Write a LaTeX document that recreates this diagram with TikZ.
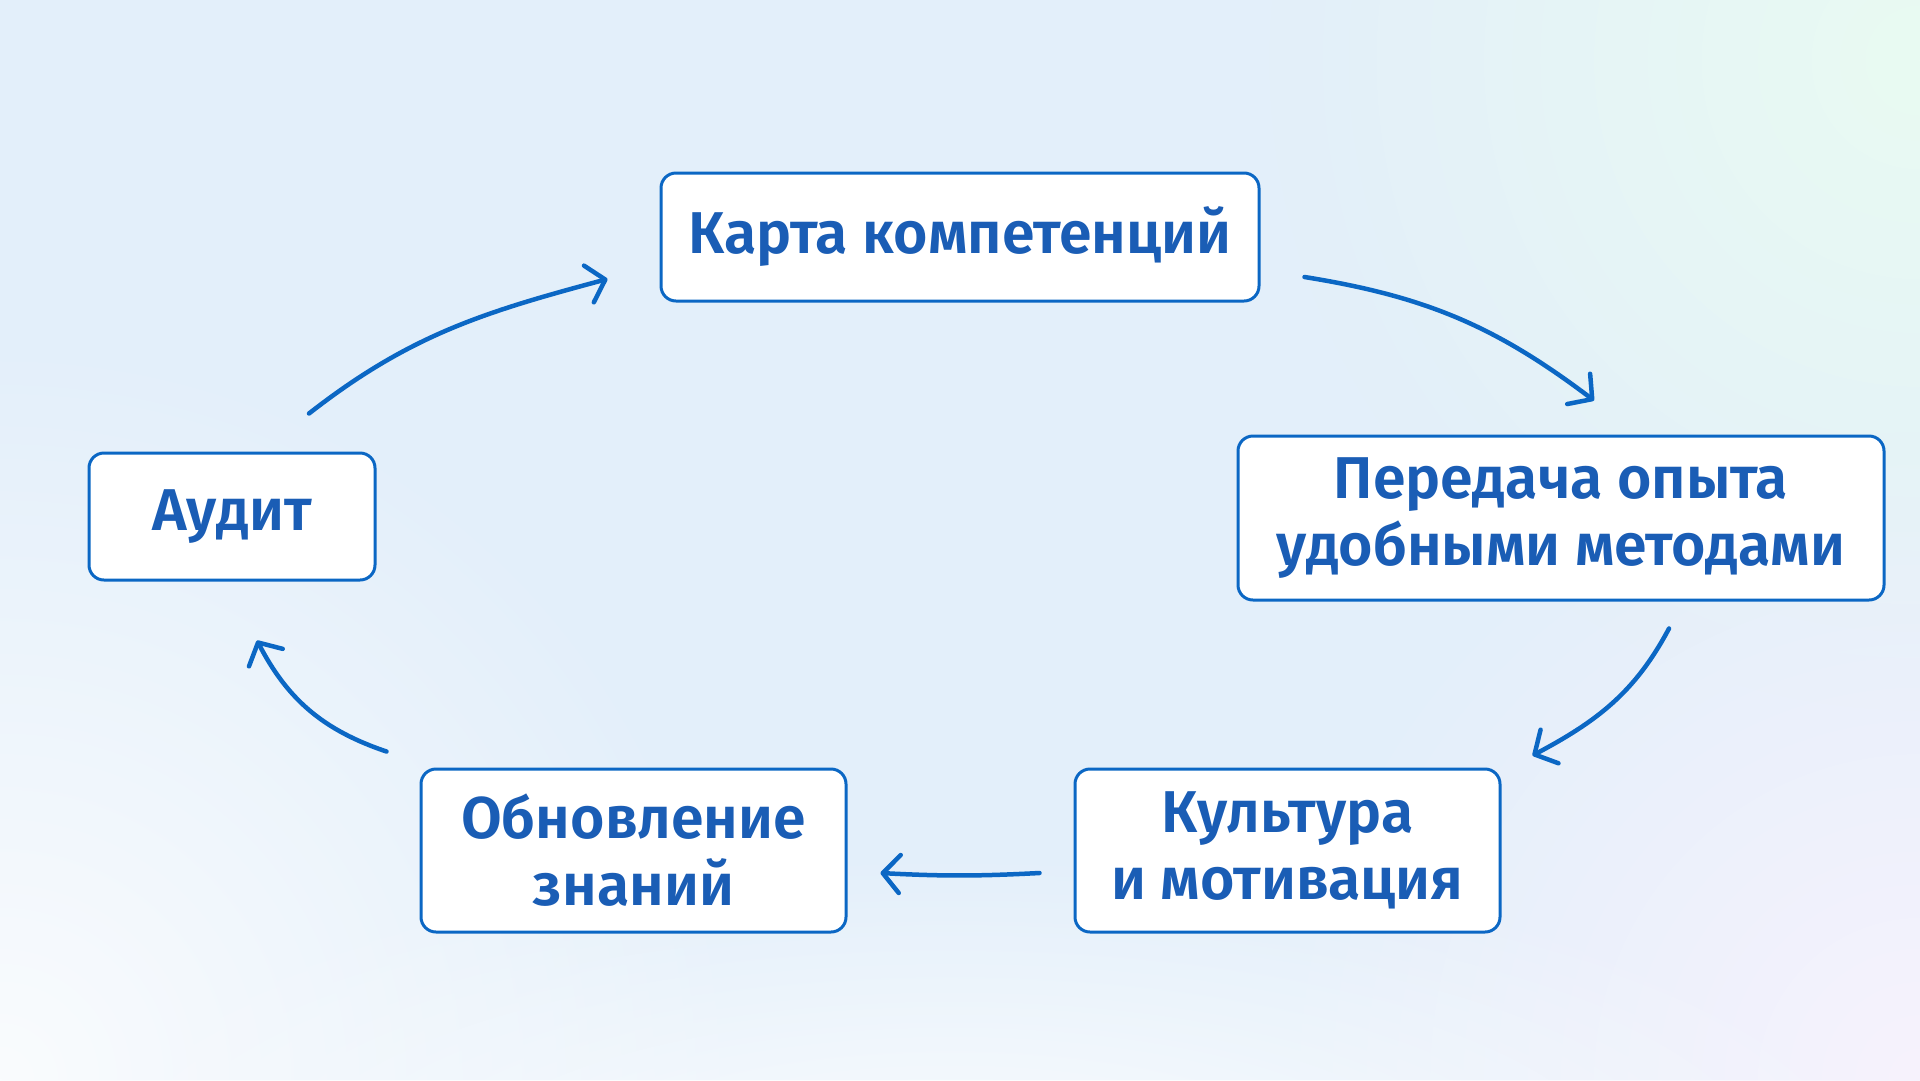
\documentclass[tikz,border=0pt]{standalone}
\usepackage{fontspec}
\setmainfont{Fira Sans}[BoldFont={Fira Sans SemiBold}]
\usetikzlibrary{arrows.meta,fadings}

\definecolor{bgblue}{HTML}{E3EFFA}
\definecolor{bgwhite}{HTML}{FAFCFE}
\definecolor{bgmint}{HTML}{E9FBF2}
\definecolor{bglilac}{HTML}{F7F3FD}
\definecolor{boxline}{HTML}{0B67C4}
\definecolor{boxtext}{HTML}{1A5DB5}

\tikzfading[name=glow, inner color=transparent!0, outer color=transparent!100]

\tikzset{
  stage/.style={draw=boxline, line width=3pt, fill=white, rounded corners=15pt,
    text=boxtext, font=\fontsize{59}{67}\selectfont\bfseries, align=center,
    inner sep=0pt},
  flow/.style={draw=boxline, line width=4.5pt, line cap=round,
    -{Straight Barb[length=17pt, width=38pt, line width=4.5pt, round]}}
}

\begin{document}
\begin{tikzpicture}[x=1pt, y=-1pt]
  % background
  \clip (0,0) rectangle (1920,1080);
  \fill[bgblue] (0,0) rectangle (1920,1080);
  \fill[bgwhite, path fading=glow] (0,1080) circle (750);
  \fill[bgmint, path fading=glow] (1920,60) circle (650);
  \fill[bglilac, path fading=glow] (1920,1080) circle (650);
  \fill[bgwhite, path fading=glow] (950,1180) ellipse (1000 and 330);

  \node[stage, minimum width=598pt, minimum height=128pt] (karta) at (960,237) {Карта компетенций};
  \node[stage, minimum width=646pt, minimum height=164pt] (peredacha) at (1561,518) {Передача опыта\\удобными методами};
  \node[stage, minimum width=425pt, minimum height=163pt] (kultura) at (1287.5,850.5) {Культура\\и мотивация};
  \node[stage, minimum width=425pt, minimum height=163pt] (obnovlenie) at (633.5,850.5) {Обновление\\знаний};
  \node[stage, minimum width=286pt, minimum height=127pt] (audit) at (232,516.5) {Аудит};

  \draw[flow] ([shift={(77,-38)}]audit.north) to[out=38, in=195] ([shift={(-52,42)}]karta.west);
  \draw[flow] ([shift={(44,40)}]karta.east) to[bend left=14] ([shift={(33,-34)}]peredacha.north);
  \draw[flow] ([shift={(108,27)}]peredacha.south) to[out=-118, in=28] ([shift={(31,-12)}]kultura.north east);
  \draw[flow] ([shift={(-34,22.5)}]kultura.west) to[bend left=3] ([shift={(33,22.5)}]obnovlenie.east);
  \draw[flow] ([shift={(-33,-16)}]obnovlenie.north west) to[bend left=22] ([shift={(25,59)}]audit.south);
\end{tikzpicture}
\end{document}
